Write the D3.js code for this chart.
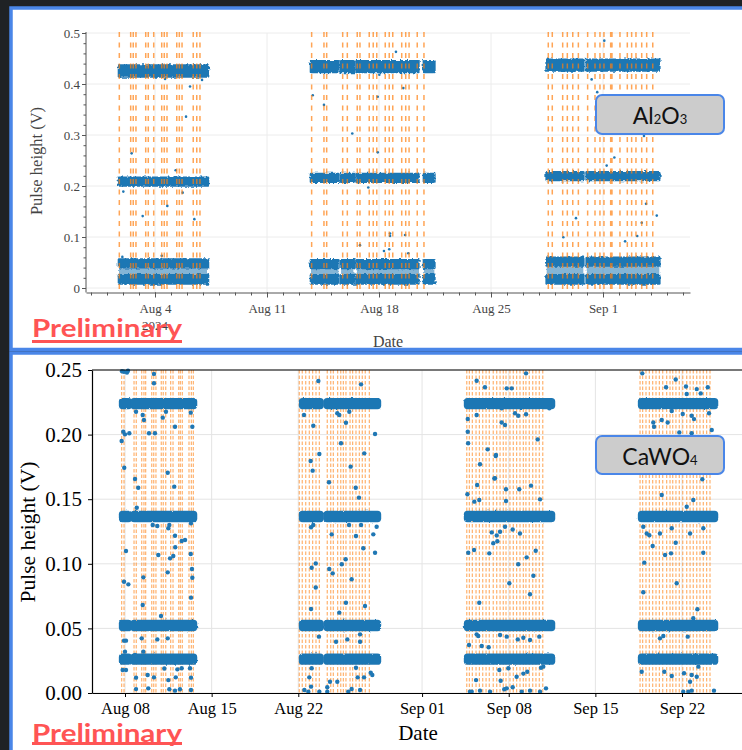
<!DOCTYPE html>
<html>
<head>
<meta charset="utf-8">
<script src="https://cdn.jsdelivr.net/npm/d3@7"></script>
<style>
  html, body { margin: 0; padding: 0; background: #1f2225; }
  svg { display: block; }
</style>
</head>
<body>
<svg id="fig" width="742" height="750"></svg>
<script>
// All times are days elapsed since 2024-08-01 00:00 UTC.
const T0 = Date.UTC(2024, 7, 1);
const day = d => new Date(T0 + d * 864e5);
const parseDay = d3.utcParse("%Y-%m-%d");

// ---------------- Al2O3 detector ----------------
// Pulse-height lines (V) seen in each of the three runs.
const alRunLevels = [
  [0.4255, 0.2085, 0.0484, 0.0170],
  [0.4340, 0.2157, 0.0470, 0.0170],
  [0.4370, 0.2196, 0.0516, 0.0170]
];
// Half-width (V) of the scatter around each line.
const alLineSpread = [0.0105, 0.0075, 0.0075, 0.0080];
// Continuous data-taking stretches: [start, end, run].
const alSegments = [
  [0.75, 6.31, 0],
  [12.75, 14.46, 1], [14.63, 15.46, 1], [15.61, 19.46, 1], [19.81, 20.46, 1],
  [27.48, 29.77, 2], [29.98, 34.52, 2]
];
// Calibration / reset times.
const alEvents = [
  0.77, 1.48, 1.64, 1.81, 2.42, 2.58, 2.92, 3.42, 3.58, 3.75, 4.36, 4.52, 4.69, 5.39, 5.61, 5.81,
  12.79, 13.56, 13.73, 14.73, 15.02, 15.64, 15.81, 16.39, 16.64, 16.86, 17.39, 17.64, 17.86,
  18.42, 18.67, 18.88, 19.39, 19.81,
  27.58, 27.83, 28.48, 28.77, 29.11, 29.46, 30.04, 30.50, 30.81, 31.06, 31.48, 31.56, 32.06,
  32.52, 32.79, 33.06, 33.42, 33.73, 34.11
];
// Isolated events away from the lines: [time, pulse height].
const alStray = [
  [5.19, 0.395], [4.94, 0.336], [1.54, 0.264], [5.94, 0.408], [4.29, 0.231], [3.63, 0.410],
  [1.02, 0.189], [2.23, 0.141], [3.77, 0.161], [4.73, 0.187], [5.46, 0.135], [0.96, 0.061], [3.42, 0.063],
  [12.86, 0.378], [13.56, 0.359], [18.52, 0.392], [16.92, 0.375], [15.33, 0.303], [16.92, 0.266],
  [18.06, 0.463], [17.02, 0.418], [16.33, 0.197], [17.69, 0.107], [17.69, 0.102], [18.63, 0.104],
  [15.81, 0.084], [17.31, 0.0725], [17.64, 0.076], [18.83, 0.068],
  [31.08, 0.485], [30.29, 0.409], [30.64, 0.384], [33.56, 0.298], [31.71, 0.256], [31.23, 0.240],
  [33.69, 0.165], [34.36, 0.142], [33.42, 0.128], [29.31, 0.137], [33.14, 0.102], [32.38, 0.0915], [28.52, 0.0994]
];
const alTickDates = ["2024-08-04", "2024-08-11", "2024-08-18", "2024-08-25", "2024-09-01"];
const alYTicks = [0, 0.1, 0.2, 0.3, 0.4, 0.5];

// ---------------- CaWO4 detector ----------------
const caLevels = [0.2240, 0.1366, 0.0522, 0.0262];
const caLineSpread = [0.0027, 0.0027, 0.0027, 0.0027];
const caSegments = [
  [6.68, 7.40], [7.61, 12.66],
  [21.22, 22.89], [23.21, 27.52],
  [34.55, 41.58],
  [48.61, 54.75]
];
const caEvents = [
  6.73, 6.92, 7.73, 7.91, 8.35, 8.53, 8.67, 9.16, 9.32, 9.50, 9.93, 10.09, 10.29, 10.69, 10.88,
  11.34, 11.47, 11.63, 12.17, 12.36, 12.52,
  21.08, 21.32, 21.60, 21.89, 22.16, 22.43, 22.70, 23.34, 23.62, 23.83, 24.18, 24.43, 24.64,
  24.85, 25.18, 25.39, 25.66, 25.93, 26.17, 26.41, 26.74,
  34.61, 34.82, 35.06, 35.36, 35.63, 35.90, 36.17, 36.43, 36.75, 37.03, 37.30, 37.56, 37.78,
  38.10, 38.37, 38.64, 38.91, 39.18, 39.39, 39.66, 39.94, 40.20, 40.47, 40.75,
  48.61, 48.82, 49.09, 49.36, 49.63, 49.90, 50.17, 50.44, 50.76, 51.03, 51.25, 51.51, 51.78,
  52.06, 52.38, 52.65, 52.91, 53.19, 53.45, 53.72, 53.99, 54.26
];
const caStray = [
  [6.76, 0.249], [6.92, 0.2487], [7.16, 0.248], [7.24, 0.2495], [9.34, 0.247], [9.34, 0.2397],
  [8.43, 0.2152], [8.53, 0.2113], [10.05, 0.2131], [10.31, 0.2177], [11.04, 0.2061], [12.44, 0.2061],
  [12.31, 0.217], [7.89, 0.2177], [6.86, 0.2022], [6.73, 0.195], [7.00, 0.2002], [7.35, 0.201],
  [8.94, 0.201], [9.42, 0.201], [6.94, 0.1744], [7.81, 0.1656], [8.07, 0.1589], [7.95, 0.1434],
  [10.45, 0.1705], [10.98, 0.1597], [9.24, 0.130], [9.61, 0.1293], [10.58, 0.130], [10.50, 0.1275],
  [11.04, 0.1217], [11.85, 0.1184], [12.33, 0.1313],
  [7.08, 0.1099], [6.92, 0.0861], [7.27, 0.0841], [8.43, 0.0681], [8.48, 0.0895], [9.69, 0.1068],
  [9.91, 0.0596], [10.45, 0.0934], [10.64, 0.1042], [10.90, 0.106], [11.06, 0.1128], [11.58, 0.1176],
  [12.31, 0.1076], [12.33, 0.0738], [12.44, 0.0892], [12.41, 0.096],
  [6.92, 0.0405], [7.08, 0.0405], [7.00, 0.032], [6.81, 0.0178], [7.08, 0.0178], [7.81, 0.0294],
  [7.89, 0.0119], [7.89, 0.003], [8.83, 0.0139], [9.34, 0.0121], [8.88, 0.0036], [9.61, 0.0415],
  [8.35, 0.0423], [8.48, 0.032], [10.45, 0.0423], [10.50, 0.010], [10.58, 0.0029], [11.04, 0.0018],
  [11.10, 0.0121], [11.44, 0.0029], [11.58, 0.0191], [12.25, 0.0191], [12.33, 0.0119], [12.33, 0.0023],
  [11.23, 0.0183], [10.18, 0.019],
  [22.08, 0.097], [22.41, 0.1003], [22.41, 0.0817], [22.03, 0.065], [22.67, 0.0436], [23.50, 0.096],
  [23.78, 0.0926], [24.51, 0.0996], [24.83, 0.1035], [25.31, 0.088], [24.85, 0.0699], [24.31, 0.0622],
  [24.05, 0.0397], [24.96, 0.0415], [25.99, 0.0454], [25.99, 0.0397], [26.39, 0.0673], [26.25, 0.112],
  [27.20, 0.1086],
  [22.08, 0.0191], [21.89, 0.0121], [22.03, 0.0049], [21.49, 0.0023], [21.81, 0.001], [22.70, 0.001],
  [23.56, 0.0087], [23.34, 0.0044], [23.34, 0.001], [24.15, 0.0087], [25.66, 0.0196], [25.31, 0.0031],
  [25.04, 0.001], [25.80, 0.0121], [26.31, 0.0121], [25.99, 0.0023], [26.85, 0.0157], [26.98, 0.0139],
  [22.62, 0.2415], [26.07, 0.2389], [21.46, 0.2152], [22.21, 0.2069], [24.15, 0.2165], [24.31, 0.2152],
  [25.12, 0.2177], [24.85, 0.2092], [27.20, 0.2005], [24.45, 0.1933], [22.70, 0.185], [22.00, 0.1796],
  [22.16, 0.1721], [25.23, 0.1752], [26.33, 0.1855], [23.48, 0.1631], [25.64, 0.1589], [25.90, 0.1512],
  [22.03, 0.1283], [22.21, 0.130], [25.10, 0.130], [26.07, 0.130], [27.33, 0.1287], [23.70, 0.1228],
  [25.66, 0.1215], [27.06, 0.1228],
  [35.41, 0.2417], [36.08, 0.2366], [34.69, 0.2121], [35.41, 0.2152], [34.69, 0.2022], [34.72, 0.1933],
  [36.30, 0.1886], [36.95, 0.1834], [35.68, 0.177], [36.84, 0.166], [34.66, 0.1538], [35.45, 0.161],
  [35.22, 0.1481], [35.62, 0.1494], [36.63, 0.1243],
  [34.73, 0.1086], [35.20, 0.1107], [36.43, 0.1081], [35.62, 0.0699], [34.79, 0.0372], [35.41, 0.0454],
  [35.54, 0.0441], [35.82, 0.0364], [36.38, 0.0354], [35.36, 0.010], [34.87, 0.001], [35.01, 0.001],
  [35.68, 0.0018], [36.49, 0.001],
  [36.75, 0.1159], [37.08, 0.1175], [38.05, 0.0849], [38.77, 0.0996], [39.45, 0.105], [39.99, 0.0908],
  [39.72, 0.0764], [40.18, 0.1101], [40.47, 0.0436], [37.30, 0.0449], [37.84, 0.0436], [38.73, 0.0415],
  [39.18, 0.0428], [39.72, 0.041], [37.24, 0.0178], [37.97, 0.0191], [38.64, 0.0126], [39.18, 0.015],
  [39.50, 0.0165], [37.35, 0.0095], [37.64, 0.0029], [37.84, 0.0036], [38.32, 0.0044], [39.05, 0.001],
  [39.72, 0.0018], [40.53, 0.001], [41.01, 0.0036], [40.61, 0.0196], [40.79, 0.0204],
  [39.40, 0.2474], [37.84, 0.2358], [38.24, 0.2358], [37.43, 0.2203], [38.51, 0.2165], [38.77, 0.2146],
  [39.40, 0.2157], [41.28, 0.2203], [37.43, 0.2094], [37.70, 0.2074], [40.34, 0.1963], [36.97, 0.1842],
  [36.89, 0.1662], [37.78, 0.1577], [38.85, 0.1577], [39.80, 0.1605], [37.78, 0.1486], [40.53, 0.1499],
  [37.30, 0.1248], [37.70, 0.1287], [38.32, 0.1266], [38.91, 0.1234], [37.03, 0.122],
  [48.79, 0.2474], [50.71, 0.2366], [51.49, 0.2427], [52.32, 0.2372], [53.19, 0.2352], [54.08, 0.2366],
  [52.38, 0.2314], [53.51, 0.2319], [49.68, 0.2094], [49.74, 0.2061], [50.36, 0.2113], [50.84, 0.2094],
  [51.17, 0.2183], [52.06, 0.2159], [52.78, 0.2146], [52.97, 0.212], [54.18, 0.2165], [51.78, 0.2017],
  [52.78, 0.201], [54.40, 0.2036], [50.36, 0.1533], [53.64, 0.1654], [52.38, 0.1442], [52.91, 0.1494],
  [48.87, 0.1287], [49.15, 0.1234], [49.36, 0.1221], [51.17, 0.1275], [50.22, 0.1234], [52.65, 0.1234],
  [53.72, 0.1275],
  [48.87, 0.078], [48.95, 0.1009], [49.63, 0.1138], [50.63, 0.1068], [51.11, 0.1081], [51.49, 0.1163],
  [53.72, 0.1086], [51.57, 0.0849], [53.24, 0.0648], [52.91, 0.0578], [48.74, 0.0165], [50.57, 0.0165],
  [51.17, 0.0132], [52.16, 0.0153], [52.78, 0.0139], [53.19, 0.0126], [52.65, 0.0087], [50.22, 0.0423],
  [50.49, 0.0441], [52.46, 0.0436], [53.32, 0.0204], [52.10, 0.001], [52.51, 0.001], [52.78, 0.0018],
  [54.58, 0.0018]
];
const caTickDates = ["2024-08-08", "2024-08-15", "2024-08-22", "2024-09-01", "2024-09-08", "2024-09-15", "2024-09-22"];
const caYTicks = [0, 0.05, 0.10, 0.15, 0.20, 0.25];

// ---------------- drawing ----------------
const BLUE = "#1f77b4", ORANGE = "#ff7f0e", FRAME = "#4a86e8";
const SERIF = "'Liberation Serif', 'Times New Roman', serif";
const SANS = "Lato, 'Open Sans', sans-serif";

const svg = d3.select("#fig");
svg.append("rect").attr("width", 742).attr("height", 750).attr("fill", "#1f2225");

const defs = svg.append("defs");
// soft wobble on the edges of the dense point clouds
function roughFilter(id, freq, scale, seed) {
  const f = defs.append("filter").attr("id", id)
    .attr("x", "-3%").attr("y", "-5%").attr("width", "106%").attr("height", "110%");
  f.append("feTurbulence").attr("type", "fractalNoise").attr("baseFrequency", freq)
    .attr("numOctaves", 1).attr("seed", seed).attr("result", "noise");
  f.append("feDisplacementMap").attr("in", "SourceGraphic").attr("in2", "noise")
    .attr("scale", scale).attr("xChannelSelector", "R").attr("yChannelSelector", "G");
}
roughFilter("roughA", 0.45, 4, 3);
roughFilter("roughC", 0.35, 2.5, 8);

// slide panels
svg.append("rect").attr("x", 11).attr("y", 8).attr("width", 760).attr("height", 341.5)
  .attr("fill", "#fff").attr("stroke", FRAME).attr("stroke-width", 3.5);
svg.append("rect").attr("x", 11).attr("y", 353).attr("width", 760).attr("height", 420)
  .attr("fill", "#fff").attr("stroke", FRAME).attr("stroke-width", 3.5);

// ===== upper chart: Al2O3 =====
const xA = d3.scaleUtc().domain([day(-1.3125), day(36.4375)]).range([86, 690]);
const yA = d3.scaleLinear().domain([0, 0.5]).range([288, 33]);
const gA = svg.append("g");
const rA = 1.3;
const axisYA = 292.5;

gA.append("g").selectAll("line").data(alYTicks).join("line")
  .attr("x1", 86).attr("x2", 690).attr("y1", d => yA(d)).attr("y2", d => yA(d))
  .attr("stroke", "#ececec").attr("stroke-width", 1);
gA.append("g").selectAll("line").data(alTickDates.map(parseDay)).join("line")
  .attr("x1", d => xA(d)).attr("x2", d => xA(d)).attr("y1", 33).attr("y2", axisYA)
  .attr("stroke", "#ececec").attr("stroke-width", 1);

// line clouds
const bandRecordsA = [];
alSegments.forEach(([s, e, run]) => {
  const lv = alRunLevels[run];
  bandRecordsA.push({ s, e, hi: lv[2], lo: lv[3], pad: 0, op: 0.55 });
  lv.forEach((v, k) => bandRecordsA.push({ s, e, hi: v + alLineSpread[k], lo: v - alLineSpread[k], pad: rA, op: 1 }));
});
gA.append("g").attr("filter", "url(#roughA)").selectAll("rect").data(bandRecordsA).join("rect")
  .attr("x", d => xA(day(d.s)) - d.pad)
  .attr("width", d => xA(day(d.e)) - xA(day(d.s)) + 2 * d.pad)
  .attr("y", d => yA(d.hi) - d.pad)
  .attr("height", d => yA(d.lo) - yA(d.hi) + 2 * d.pad)
  .attr("rx", d => d.pad)
  .attr("fill", BLUE).attr("fill-opacity", d => d.op);

gA.append("g").selectAll("circle").data(alStray).join("circle")
  .attr("cx", d => xA(day(d[0]))).attr("cy", d => yA(d[1])).attr("r", rA).attr("fill", BLUE);

gA.append("g").selectAll("line").data(alEvents).join("line")
  .attr("x1", d => xA(day(d))).attr("x2", d => xA(day(d)))
  .attr("y1", 32).attr("y2", axisYA)
  .attr("stroke", ORANGE).attr("stroke-opacity", 0.7).attr("stroke-width", 1.5)
  .attr("stroke-dasharray", "5,5.5");

// axes
const axA = gA.append("g").attr("transform", `translate(0,${axisYA})`)
  .call(d3.axisBottom(xA).tickValues(alTickDates.map(parseDay)).tickFormat(d3.utcFormat("%b %-d"))
    .tickSizeInner(5).tickSizeOuter(0).tickPadding(6));
axA.attr("font-family", SERIF).attr("font-size", 13).attr("color", "#555");
axA.selectAll("text").attr("fill", "#444");
gA.append("g").attr("transform", `translate(0,${axisYA})`).attr("color", "#555")
  .call(d3.axisBottom(xA).ticks(d3.utcDay.every(1)).tickSize(3).tickFormat(""))
  .call(g => g.select(".domain").remove());
gA.append("text").attr("x", xA(parseDay(alTickDates[0]))).attr("y", 329.5)
  .attr("text-anchor", "middle").attr("font-family", SERIF).attr("font-size", 13).attr("fill", "#444")
  .text("2024");

const ayA = gA.append("g").attr("transform", "translate(86,0)")
  .call(d3.axisLeft(yA).tickValues(alYTicks).tickFormat(d => d === 0 ? "0" : d3.format(".1f")(d))
    .tickSizeInner(4).tickSizeOuter(0).tickPadding(2));
ayA.attr("font-family", SERIF).attr("font-size", 13).attr("color", "#555");
ayA.selectAll("text").attr("fill", "#444");
ayA.select(".domain").remove();
gA.append("g").attr("transform", "translate(86,0)").attr("color", "#555")
  .call(d3.axisLeft(yA).ticks(25).tickSize(2.5).tickFormat(""))
  .call(g => g.select(".domain").remove());
gA.append("line").attr("x1", 86).attr("x2", 86).attr("y1", 32).attr("y2", axisYA)
  .attr("stroke", "#555");

gA.append("text").attr("x", 388).attr("y", 346.5).attr("text-anchor", "middle")
  .attr("font-family", SERIF).attr("font-size", 16).attr("fill", "#444").text("Date");
gA.append("text").attr("transform", "translate(41.5,161) rotate(-90)").attr("text-anchor", "middle")
  .attr("font-family", SERIF).attr("font-size", 16.5).attr("fill", "#444").text("Pulse height (V)");

// ===== lower chart: CaWO4 =====
const xC = d3.scaleUtc().domain([day(4.334), day(58.30)]).range([92, 760]);
const yC = d3.scaleLinear().domain([0, 0.25]).range([693, 370]);
const gC = svg.append("g");
const rC = 2.2;

gC.append("g").selectAll("line").data(caYTicks).join("line")
  .attr("x1", 92).attr("x2", 760).attr("y1", d => yC(d)).attr("y2", d => yC(d))
  .attr("stroke", "#e4e4e4").attr("stroke-width", 1);
gC.append("g").selectAll("line").data(caTickDates.map(parseDay)).join("line")
  .attr("x1", d => xC(d)).attr("x2", d => xC(d)).attr("y1", 370).attr("y2", 693)
  .attr("stroke", "#e4e4e4").attr("stroke-width", 1);

gC.append("g").selectAll("line").data(caEvents).join("line")
  .attr("x1", d => xC(day(d))).attr("x2", d => xC(day(d)))
  .attr("y1", 370).attr("y2", 693)
  .attr("stroke", ORANGE).attr("stroke-opacity", 0.6).attr("stroke-width", 1.2)
  .attr("stroke-dasharray", "3.5,2");

const bandRecordsC = [];
caSegments.forEach(([s, e]) => caLevels.forEach((v, k) =>
  bandRecordsC.push({ s, e, hi: v + caLineSpread[k], lo: v - caLineSpread[k] })));
gC.append("g").attr("filter", "url(#roughC)").selectAll("rect").data(bandRecordsC).join("rect")
  .attr("x", d => xC(day(d.s)) - rC)
  .attr("width", d => xC(day(d.e)) - xC(day(d.s)) + 2 * rC)
  .attr("y", d => yC(d.hi) - rC)
  .attr("height", d => yC(d.lo) - yC(d.hi) + 2 * rC)
  .attr("rx", rC + 1.5)
  .attr("fill", BLUE);

gC.append("g").selectAll("circle").data(caStray).join("circle")
  .attr("cx", d => xC(day(d[0]))).attr("cy", d => yC(d[1])).attr("r", rC).attr("fill", BLUE);

const axC = gC.append("g").attr("transform", "translate(0,693)")
  .call(d3.axisBottom(xC).tickValues(caTickDates.map(parseDay)).tickFormat(d3.utcFormat("%b %d"))
    .tickSizeInner(4).tickSizeOuter(0).tickPadding(5));
axC.attr("font-family", SERIF).attr("font-size", 16.5).attr("color", "#000");
axC.select(".domain").attr("stroke-width", 1.2);
const ayC = gC.append("g").attr("transform", "translate(92,0)")
  .call(d3.axisLeft(yC).tickValues(caYTicks).tickFormat(d3.format(".2f"))
    .tickSizeInner(4).tickSizeOuter(0).tickPadding(6));
ayC.attr("font-family", SERIF).attr("font-size", 21).attr("color", "#000");
ayC.select(".domain").attr("stroke-width", 1.2);
gC.append("line").attr("x1", 92).attr("x2", 760).attr("y1", 370).attr("y2", 370)
  .attr("stroke", "#000").attr("stroke-width", 1.2);

gC.append("text").attr("x", 418).attr("y", 740).attr("text-anchor", "middle")
  .attr("font-family", SERIF).attr("font-size", 21).attr("fill", "#000").text("Date");
gC.append("text").attr("transform", "translate(35,532) rotate(-90)").attr("text-anchor", "middle")
  .attr("font-family", SERIF).attr("font-size", 21.5).attr("fill", "#000").text("Pulse height (V)");

// ===== annotations =====
function tag(x, y, w, h, parts, baseline) {
  svg.append("rect").attr("x", x).attr("y", y).attr("width", w).attr("height", h).attr("rx", 6)
    .attr("fill", "#cccccc").attr("stroke", FRAME).attr("stroke-width", 2);
  const t = svg.append("text").attr("x", x + w / 2).attr("y", baseline).attr("text-anchor", "middle")
    .attr("font-family", SANS).attr("font-size", 23).attr("fill", "#111");
  parts.forEach(([s, sub]) => t.append("tspan").attr("font-size", sub ? 13 : 23).text(s));
}
tag(596, 95, 128, 39, [["Al"], ["2", true], ["O"], ["3", true]], 123.5);
tag(596, 436, 128, 38, [["CaWO"], ["4", true]], 464.5);

function prelim(baseline, lineY) {
  svg.append("text").attr("x", 32).attr("y", baseline).attr("font-family", SANS)
    .attr("font-weight", 700).attr("font-size", 24).attr("fill", "#ff5454")
    .attr("textLength", 150).attr("lengthAdjust", "spacingAndGlyphs").text("Preliminary");
  svg.append("rect").attr("x", 32).attr("y", lineY).attr("width", 150).attr("height", 3)
    .attr("fill", "#ff5454");
}
prelim(337, 340);
prelim(742, 742);
</script>
</body>
</html>
